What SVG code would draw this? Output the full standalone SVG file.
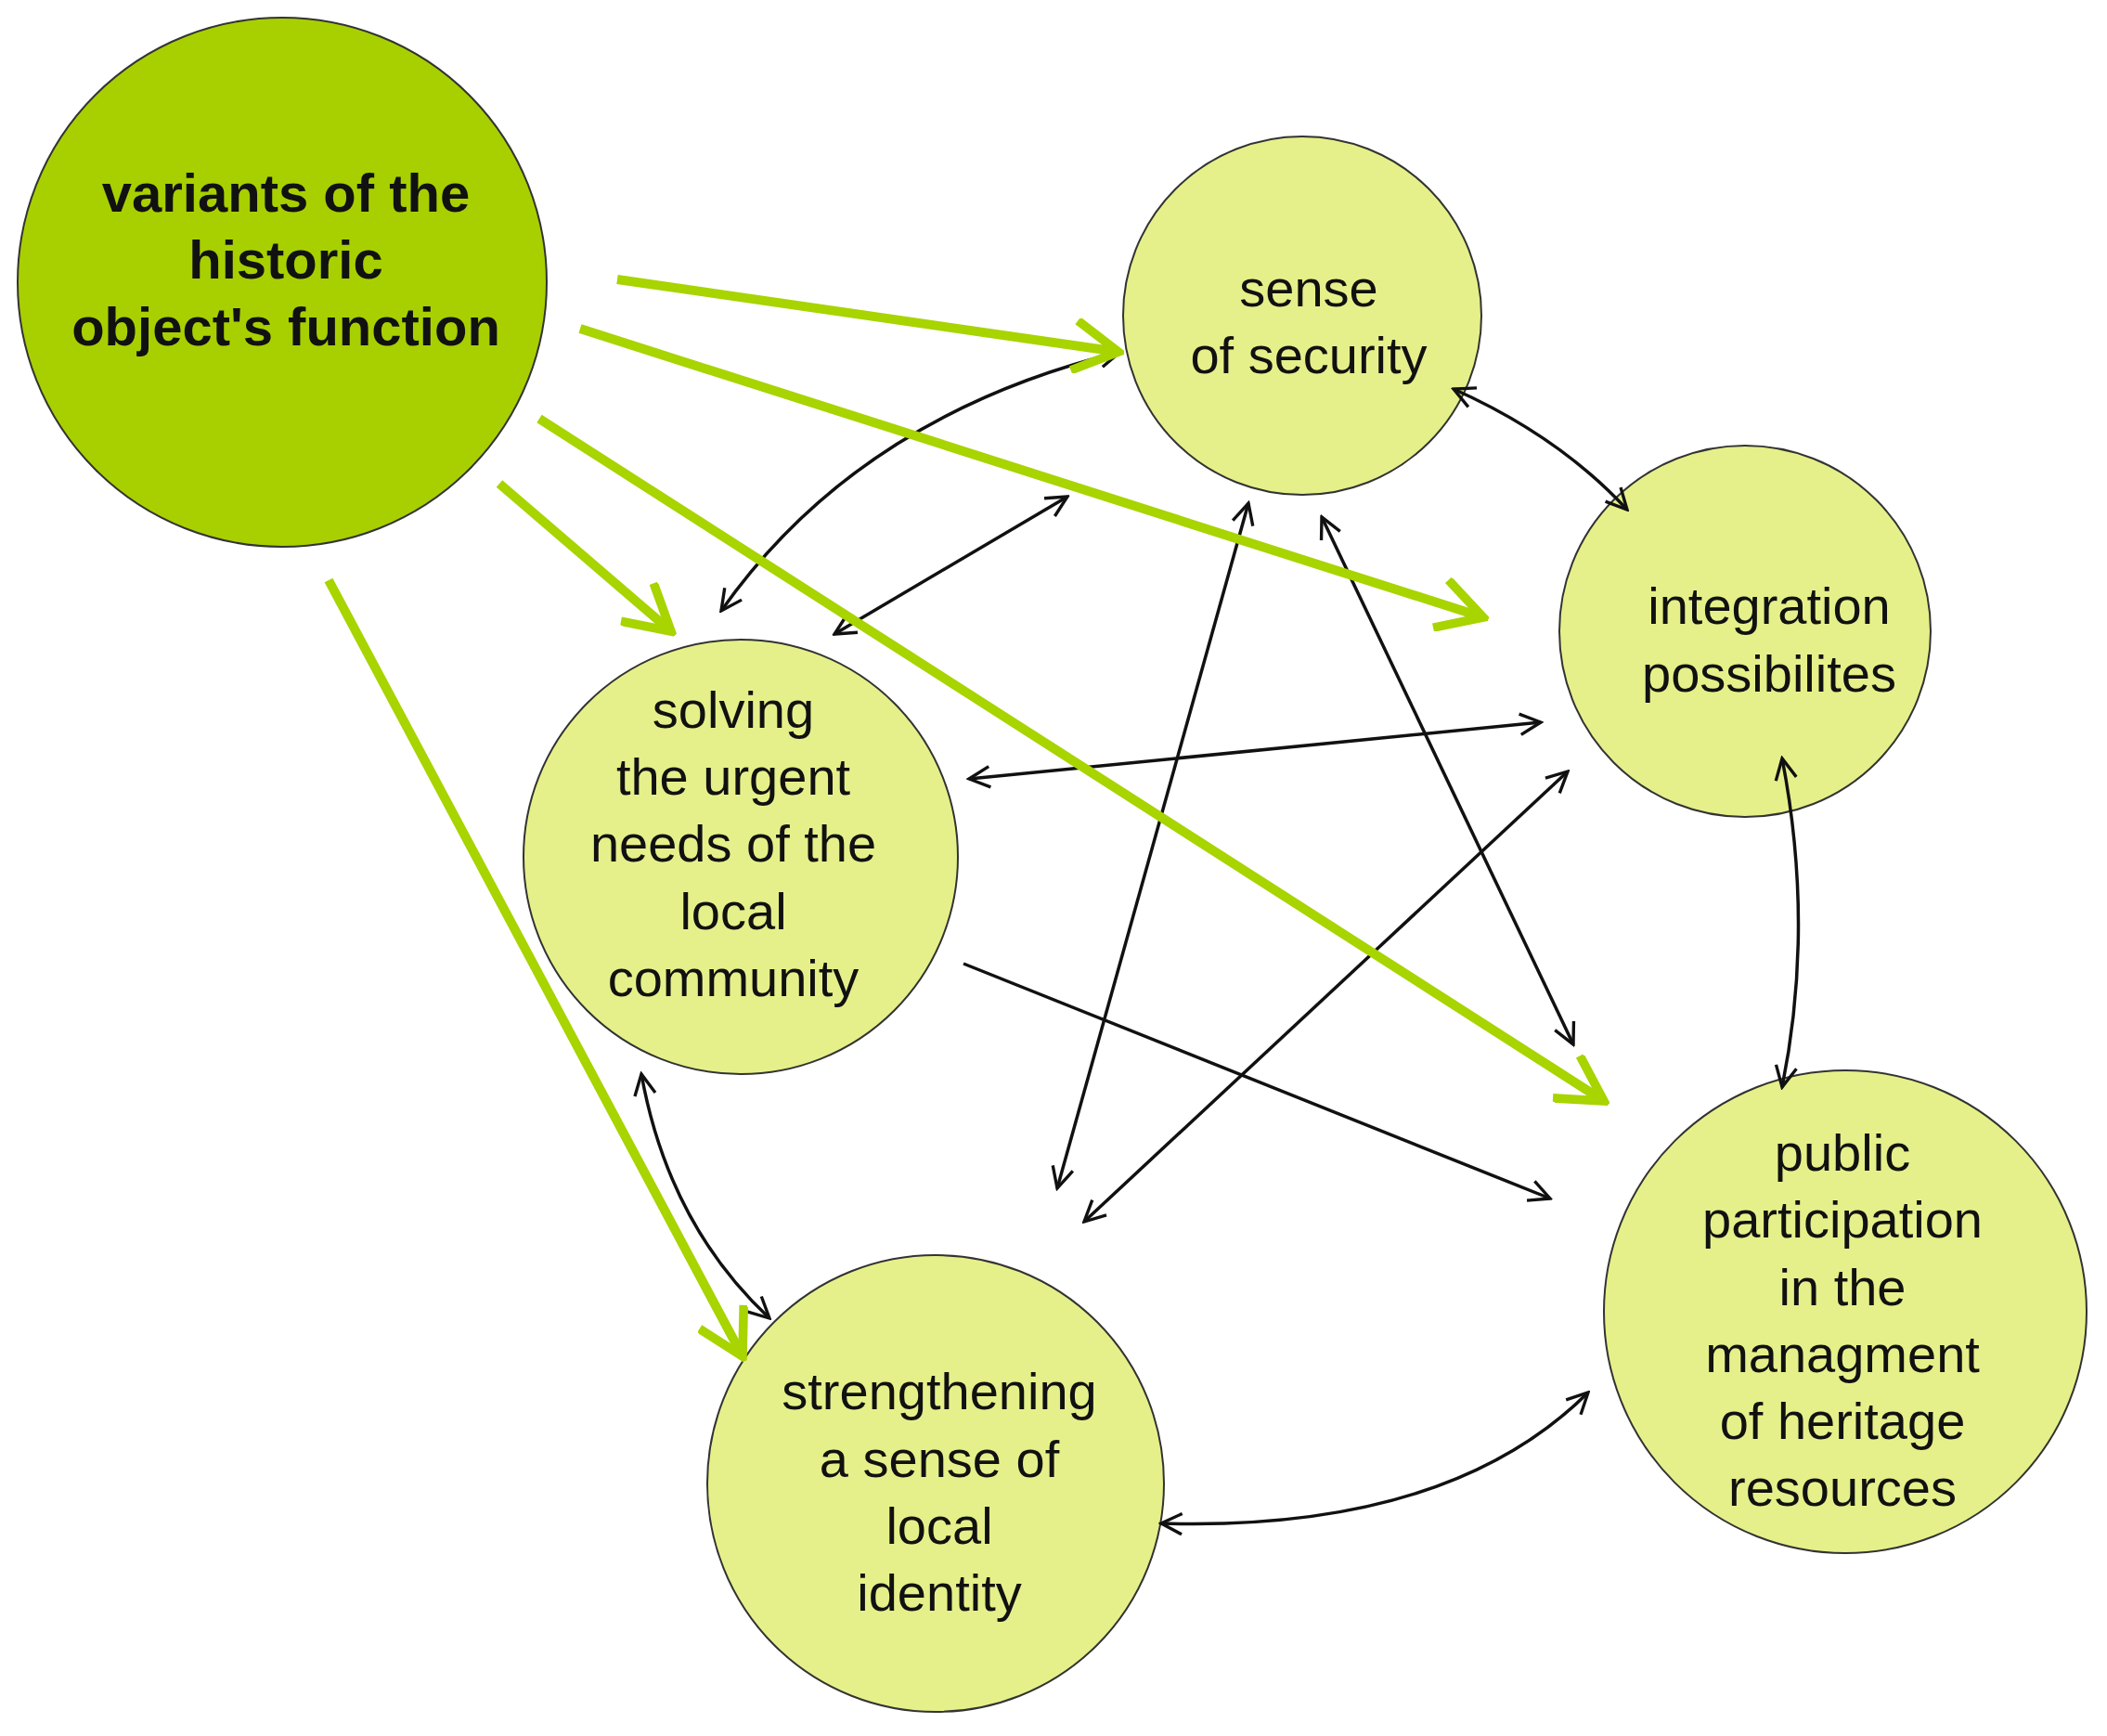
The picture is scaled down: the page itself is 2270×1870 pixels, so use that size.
<svg xmlns="http://www.w3.org/2000/svg" width="2270" height="1870" viewBox="0 0 2270 1870">
<style>
.n{fill:#e6f08a;stroke:#333;stroke-width:2}
.d{fill:#a8d000;stroke:#333;stroke-width:2}
text{font-family:"Liberation Sans",Arial,sans-serif;font-size:56px;fill:#111;text-anchor:middle}
.b{font-weight:bold;font-size:58px}
.g{stroke:#a8d400;stroke-width:10;fill:none;marker-end:url(#gh)}
.k{stroke:#111;stroke-width:3.5;fill:none;marker-end:url(#kh);marker-start:url(#kh)}
</style>
<defs>
<marker id="gh" viewBox="0 0 10 10" refX="9" refY="5" markerWidth="6" markerHeight="6" orient="auto-start-reverse" markerUnits="strokeWidth"><path d="M1,0.5 L9,5 L1,9.5" fill="none" stroke="#a8d400" stroke-width="1.6"/></marker>
<marker id="kh" viewBox="0 0 10 10" refX="9" refY="5" markerWidth="8" markerHeight="8" orient="auto-start-reverse" markerUnits="strokeWidth"><path d="M1,1 L9,5 L1,9" fill="none" stroke="#111" stroke-width="1.2"/></marker>
</defs>
<rect width="2270" height="1870" fill="#fff"/>
<g id="n1"><circle class="d" cx="304" cy="304" r="285"/><text class="b" x="308" y="228">variants of the</text><text class="b" x="308" y="300">historic</text><text class="b" x="308" y="372">object's function</text></g>
<g id="n2"><circle class="n" cx="1403" cy="340" r="193"/><text x="1410" y="330">sense</text><text x="1410" y="402">of security</text></g>
<g id="n3"><circle class="n" cx="1880" cy="680" r="200"/><text x="1906" y="672">integration</text><text x="1906" y="745">possibilites</text></g>
<g id="n4"><circle class="n" cx="798" cy="923" r="234"/><text x="790" y="784">solving</text><text x="790" y="856">the urgent</text><text x="790" y="928">needs of the</text><text x="790" y="1001">local</text><text x="790" y="1073">community</text></g>
<g id="n5"><circle class="n" cx="1008" cy="1598" r="246"/><text x="1012" y="1518">strengthening</text><text x="1012" y="1591">a sense of</text><text x="1012" y="1663">local</text><text x="1012" y="1735">identity</text></g>
<g id="n6"><circle class="n" cx="1988" cy="1413" r="260"/><text x="1985" y="1261">public</text><text x="1985" y="1333">participation</text><text x="1985" y="1406">in the</text><text x="1985" y="1478">managment</text><text x="1985" y="1550">of heritage</text><text x="1985" y="1622">resources</text></g>
<g id="connectors">
<path class="k" d="M1207,379 Q925,448 777,658"/>
<path class="k" d="M899,683 L1150,535"/>
<path class="k" d="M1566,419 Q1680,470 1753,549"/>
<path class="k" d="M1345,542 L1139,1280"/>
<path class="k" d="M1424,557 L1695,1125"/>
<path class="k" d="M1044,839 L1660,778"/>
<path class="k" d="M1689,831 L1168,1316"/>
<path class="k" d="M1038,1038 L1670,1291" style="marker-start:none"/>
<path class="k" d="M1920,817 Q1955,998 1920,1171"/>
<path class="k" d="M691,1157 Q720,1318 829,1420"/>
<path class="k" d="M1251,1641 Q1560,1650 1711,1500"/>
<path class="g" d="M665,301 L1205,379"/>
<path class="g" d="M625,354 L1598,665"/>
<path class="g" d="M581,451 L1728,1186"/>
<path class="g" d="M538,521 L723,680"/>
<path class="g" d="M354,625 L800,1461"/>
</g>
</svg>
